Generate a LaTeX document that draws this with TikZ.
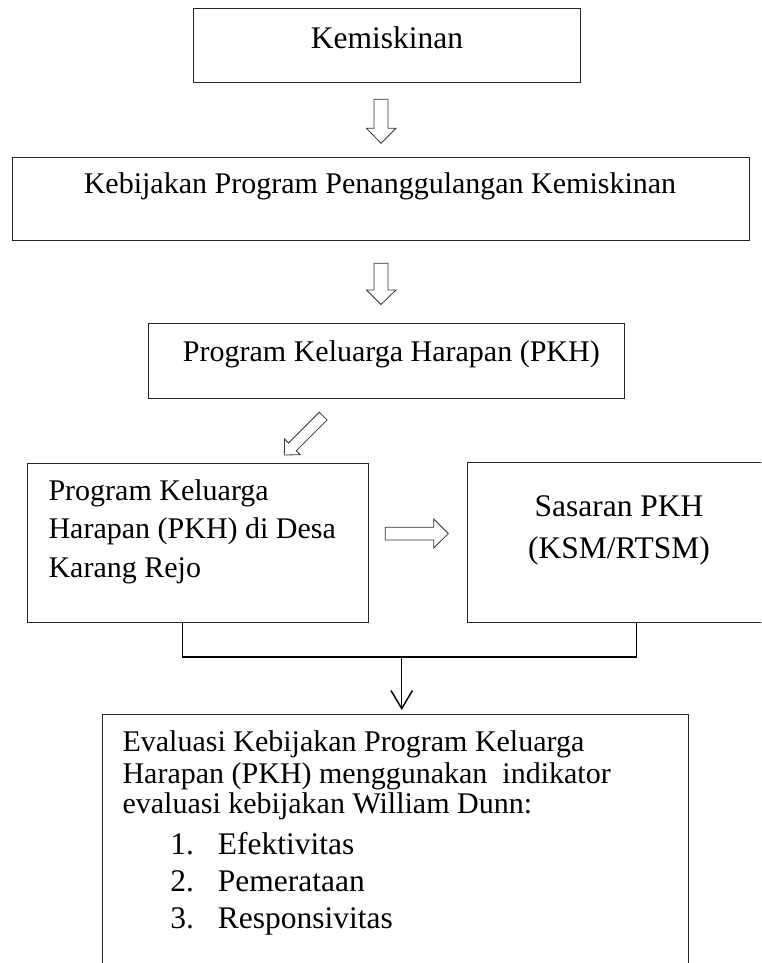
\documentclass[tikz,border=0pt]{standalone}
\usepackage{fontspec}
\setmainfont{Liberation Serif}
\usetikzlibrary{arrows.meta}
\tikzset{
  box/.style={draw=black!85, line width=0.75pt, inner sep=0pt, anchor=north west},
  txt/.style={inner sep=0pt, anchor=base, font=\fontsize{22.5}{27}\selectfont},
  txtl/.style={txt, anchor=base west},
  bigtxt/.style={inner sep=0pt, anchor=base, font=\fontsize{23.6}{28}\selectfont},
  bigtxtl/.style={bigtxt, anchor=base west},
  blockarrow/.style={draw=black!80, line width=0.6pt, fill=white, line join=miter},
  conn/.style={draw=black, line width=1.1pt},
}
\begin{document}
\begin{tikzpicture}[x=0.75pt, y=-0.75pt]
\clip (0,0) rectangle (761,963);
\fill[white] (0,0) rectangle (761,963);

% Box 1
\node[box, minimum width=387*0.75pt, minimum height=73.4*0.75pt] (b1) at (193,8.3) {};
\node[bigtxt] (t1) at (387,48.3) {Kemiskinan};

% Arrow 1
\draw[blockarrow] (374,99.3) -- (388,99.3) -- (388,128.3) -- (396,128.3) -- (381,143.3) -- (366.5,128.3) -- (374,128.3) -- cycle;

% Box 2
\node[box, minimum width=737*0.75pt, minimum height=83.3*0.75pt] (b2) at (11.7,156.7) {};
\node[txt] (t2) at (380,193.3) {Kebijakan Program Penanggulangan Kemiskinan};

% Arrow 2
\draw[blockarrow] (374,263.3) -- (388,263.3) -- (388,290) -- (396,290) -- (381,304.5) -- (366.5,290) -- (374,290) -- cycle;

% Box 3
\node[box, minimum width=475.2*0.75pt, minimum height=75*0.75pt] (b3) at (148.3,323.3) {};
\node[txtl] (t3) at (182.7,361.7) {Program Keluarga Harapan (PKH)};

% Diagonal arrow
\draw[blockarrow] (319.3,412.2) -- (327.1,420.0) -- (296.3,450.8) -- (300.2,454.7) -- (284.3,455) -- (284.6,439.1) -- (288.5,443.0) -- cycle;

% Box 4
\node[box, minimum width=341.6*0.75pt, minimum height=159*0.75pt] (b4) at (26.7,462.7) {};
\node[txtl] (t4a) at (48.3,500) {Program Keluarga};
\node[txtl] (t4b) at (48.3,538.5) {Harapan (PKH) di Desa};
\node[txtl] (t4c) at (48.3,577) {Karang Rejo};

% Right arrow
\draw[blockarrow] (385.3,527.3) -- (433.7,527.3) -- (433.7,519) -- (448.3,533.6) -- (433.7,548) -- (433.7,540) -- (385.3,540) -- cycle;

% Box 5
\node[box, minimum width=304*0.75pt, minimum height=159.7*0.75pt] (b5) at (467,462) {};
\node[bigtxt] (t5a) at (619,516) {Sasaran PKH};
\node[bigtxt] (t5b) at (619,558) {(KSM/RTSM)};

% Evaluation box
\node[box, minimum width=586.3*0.75pt, minimum height=270*0.75pt] (b6) at (101.7,714) {};
\node[txtl] (t6a) at (122.3,751.7) {Evaluasi Kebijakan Program Keluarga};
\node[txtl] (t6b) at (122.3,783.3) {Harapan (PKH) menggunakan~ indikator};
\node[txtl] (t6c) at (122.3,813.3) {evaluasi kebijakan William Dunn:};
\node[bigtxtl] (n1) at (170,854) {1.};
\node[bigtxtl] (i1) at (217.7,854) {Efektivitas};
\node[bigtxtl] (n2) at (170,891.7) {2.};
\node[bigtxtl] (i2) at (217.7,891.7) {Pemerataan};
\node[bigtxtl] (n3) at (170,928.3) {3.};
\node[bigtxtl] (i3) at (217.7,928.3) {Responsivitas};

% Connectors
\coordinate (ja) at (182.3,657);
\coordinate (jb) at (636.7,657);
\coordinate (jm) at (401.7,657);
\draw[conn] (b4.south -| ja) -- (ja) -- (jb) -- (b5.south -| jb);
\draw[conn, -{Straight Barb[length=13.5pt, width=16pt, line width=1.1pt]}, shorten >=3pt] (jm) -- (b6.north -| jm);
\end{tikzpicture}
\end{document}
